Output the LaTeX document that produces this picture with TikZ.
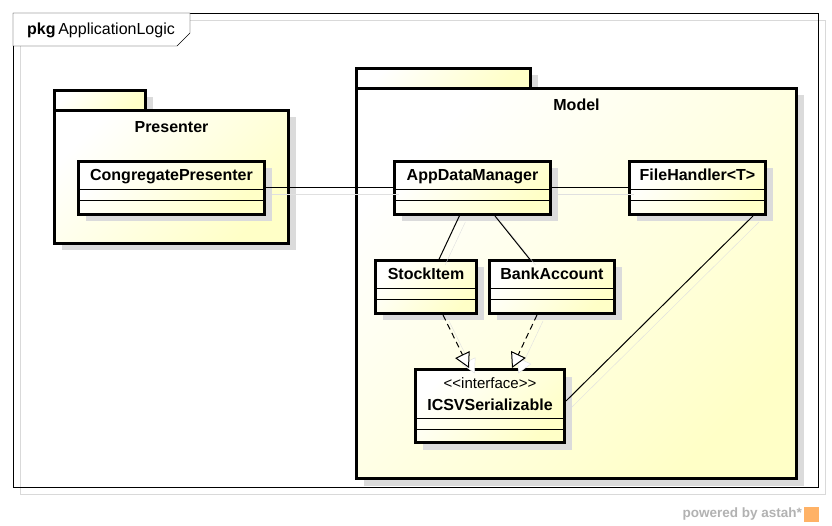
\documentclass[tikz,border=0pt]{standalone}
\usepackage{fontspec}
\setmainfont{Liberation Sans}
\usetikzlibrary{arrows.meta,shadows,positioning}

\begin{document}
\begin{tikzpicture}[x=1pt,y=-1pt]
\tikzstyle{shade yellow}=[left color=white, right color=yellow!22, shading angle=45]
\tikzstyle{package}=[draw, line width=3pt, shade yellow, inner sep=0pt, anchor=north west,
  drop shadow={shadow xshift=7pt, shadow yshift=-7pt, fill=black!14, opacity=1}]
\tikzstyle{umlclass}=[package, minimum height=53pt, font=\fontsize{16}{22}\selectfont\bfseries,
  text height=11pt, text depth=26pt]
\tikzstyle{title}=[font=\fontsize{16}{19}\selectfont\bfseries, inner sep=0pt]
\tikzstyle{assoc}=[line width=1pt, preaction={draw=black!12, solid, transform canvas={shift={(6pt,-6pt)}}}]
\tikzstyle{realize}=[assoc, dash pattern=on 6pt off 4pt,
  -{Triangle[fill=white, length=15pt, width=16pt]}]

\fill[white] (0,0) rectangle (832,526);
\draw[black!15] (20,20) rectangle (825,494);
\draw (13,13) rectangle (818,487);
\draw[fill=white] (13,13) -- (190,13) -- (190,33) -- (177,46) -- (13,46) -- cycle;
\node[anchor=west, inner sep=0pt, font=\fontsize{16}{19}\selectfont] (frame) at (27,30)
  {\textbf{pkg}\,ApplicationLogic};

\node[package, minimum width=91pt, minimum height=20pt] (ptab) at (53,89) {};
\node[package, minimum width=234pt, minimum height=133pt] (presenter) at (53,109) {};
\node[title] (presenter-title) at ([yshift=-18pt]presenter.north) {Presenter};

\node[package, minimum width=174pt, minimum height=20pt] (mtab) at (355,67) {};
\node[package, minimum width=440pt, minimum height=390pt] (model) at (355,87) {};
\node[title] (model-title) at ([yshift=-18pt]model.north) {Model};

\node[umlclass, minimum width=186pt] (cp) at (77,160) {CongregatePresenter};
\node[umlclass, minimum width=156pt] (adm) at (393,160) {AppDataManager};
\node[umlclass, minimum width=136pt] (fh) at (628,160) {FileHandler{<}T{>}};
\node[umlclass, minimum width=101pt] (si) at (374,259) {StockItem};
\node[umlclass, minimum width=125pt] (ba) at (488,259) {BankAccount};
\node[umlclass, minimum width=149pt, minimum height=73pt, align=center, text height=32pt, text depth=24pt]
  (icsv) at (414,368) {{\mdseries\fontsize{15}{22}\selectfont {<}{<}interface{>}{>}}\\ICSVSerializable};

\foreach \c in {cp,adm,fh,si,ba,icsv} {
  \draw[line width=1pt] ([yshift=15pt]\c.south west) -- ([yshift=15pt]\c.south east);
  \draw[line width=1pt] ([yshift=26pt]\c.south west) -- ([yshift=26pt]\c.south east);
}

\draw[assoc] (cp) -- (adm);
\draw[assoc] (adm) -- (fh);
\draw[assoc] (adm) -- (si);
\draw[assoc] (adm) -- (ba);
\draw[assoc] ([xshift=-14pt]fh.south east) -- ([yshift=5pt]icsv.east);
\draw[realize] ([xshift=17pt]si.south) -- ([xshift=-21pt]icsv.north);
\draw[realize] ([xshift=-15pt]ba.south) -- ([xshift=22pt]icsv.north);

\node[anchor=east, inner sep=0pt, text=black!30, font=\fontsize{13.5}{16}\selectfont\bfseries]
  (powered) at (802,514) {powered by astah*};
\node[fill=orange!60, minimum size=15pt, inner sep=0pt, right=2pt of powered] (logo) {};
\end{tikzpicture}
\end{document}
